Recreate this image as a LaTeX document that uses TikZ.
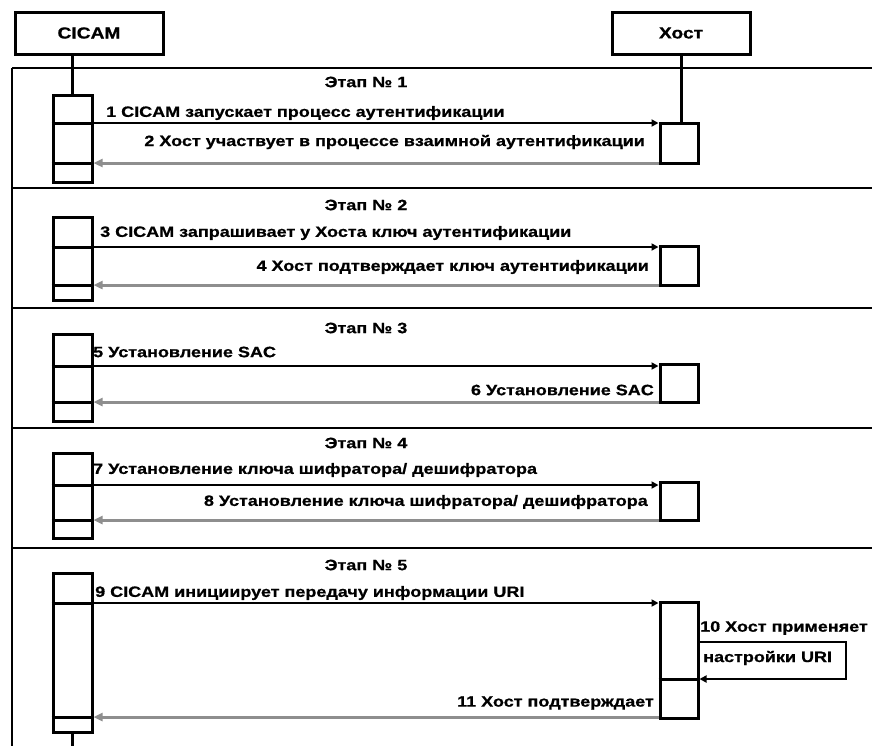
\documentclass[tikz,border=0pt]{standalone}
\usepackage{fontspec}
\setmainfont{Liberation Sans}[FakeStretch=1.2, BoldFeatures={FakeBold=0.8}]
\usetikzlibrary{arrows.meta}
\definecolor{respgray}{HTML}{8E8E8E}
\tikzset{
  objbox/.style={draw, line width=3pt, fill=white, inner sep=0pt, minimum height=42pt,
    font=\bfseries\fontsize{16}{18}\selectfont},
  actbox/.style={draw, line width=3pt, fill=white, inner sep=0pt},
  frameline/.style={line width=2.6pt},
  divline/.style={line width=3pt},
  lifeline/.style={line width=3pt},
  req/.style={line width=2.6pt, -{Triangle[length=7pt,width=7pt]}},
  rsp/.style={line width=3pt, draw=respgray, -{Triangle[length=9pt,width=8pt,fill=respgray]}},
  lbl/.style={font=\bfseries\fontsize{15}{17}\selectfont, inner sep=0pt},
  stagetitle/.style={font=\bfseries\fontsize{15}{17}\selectfont, inner sep=0pt},
}
\begin{document}
\begin{tikzpicture}[x=1pt,y=-1pt]
\useasboundingbox (0,0) rectangle (872,745);
% stage frames
\coordinate (fl) at (12,746);
\foreach \yy in {68,188,308,428,548}{\draw[frameline] (12,\yy) -- (873,\yy);}
\draw[frameline] (12,68) -- (fl);
% stage titles
\node[stagetitle] (s1) at (366,82) {Этап № 1};
\node[stagetitle] (s2) at (366,205) {Этап № 2};
\node[stagetitle] (s3) at (366,328) {Этап № 3};
\node[stagetitle] (s4) at (366,443) {Этап № 4};
\node[stagetitle] (s5) at (366,565) {Этап № 5};
% objects
\node[objbox, minimum width=148pt] (cicam) at (89,33) {CICAM};
\node[objbox, minimum width=138pt] (host) at (681,33) {Хост};
% activation boxes CICAM
\node[actbox, minimum width=39pt, minimum height=87pt] (c1) at (72.5,138.5) {};
\node[actbox, minimum width=39pt, minimum height=83pt] (c2) at (72.5,258.5) {};
\node[actbox, minimum width=39pt, minimum height=87pt] (c3) at (72.5,377.5) {};
\node[actbox, minimum width=39pt, minimum height=85pt] (c4) at (72.5,495.5) {};
\node[actbox, minimum width=39pt, minimum height=159pt] (c5) at (72.5,652.5) {};
% activation boxes Host
\node[actbox, minimum width=38pt, minimum height=40pt] (h1) at (679,143) {};
\node[actbox, minimum width=38pt, minimum height=39pt] (h2) at (679,265.5) {};
\node[actbox, minimum width=38pt, minimum height=38pt] (h3) at (679,383) {};
\node[actbox, minimum width=38pt, minimum height=38pt] (h4) at (679,501) {};
\node[actbox, minimum width=38pt, minimum height=116pt] (h5) at (679,660) {};
% lifelines
\coordinate (cend) at (72.5,746);
\draw[lifeline] (c1.north |- cicam.south) -- (c1.north);
\draw[lifeline] (host.south) -- (host.south |- h1.north);
\draw[lifeline] (c5.south) -- (cend);
% level coordinates
\foreach \n/\yy in {a1/123,a2/163,a3/247,a4/285,a5/366,a6/402,a7/485,a8/520,a9/603,a10/679,a11/717}{\coordinate (\n) at (0,\yy);}
% dividers in CICAM boxes
\foreach \b/\la/\lb in {c1/a1/a2,c2/a3/a4,c3/a5/a6,c4/a7/a8,c5/a9/a11}{
  \draw[divline] (\b.west |- \la) -- (\b.east |- \la);
  \draw[divline] (\b.west |- \lb) -- (\b.east |- \lb);
}
\draw[divline] (h5.west |- a10) -- (h5.east |- a10);
% messages
\draw[req] (c1.east |- a1) -- (h1.west |- a1);
\draw[rsp] (h1.west |- a2) -- (c1.east |- a2);
\draw[req] (c2.east |- a3) -- (h2.west |- a3);
\draw[rsp] (h2.west |- a4) -- (c2.east |- a4);
\draw[req] (c3.east |- a5) -- (h3.west |- a5);
\draw[rsp] (h3.west |- a6) -- (c3.east |- a6);
\draw[req] (c4.east |- a7) -- (h4.west |- a7);
\draw[rsp] (h4.west |- a8) -- (c4.east |- a8);
\draw[req] (c5.east |- a9) -- (h5.west |- a9);
\coordinate (lp1) at (846,642);
\coordinate (lp2) at (846,679);
\draw[req] (h5.east |- lp1) -- (lp1) -- (lp2) -- (h5.east |- lp2);
\draw[rsp] (h5.west |- a11) -- (c5.east |- a11);
% labels
\node[lbl, anchor=west] (l1) at (106,113) {1 CICAM запускает процесс аутентификации};
\node[lbl, anchor=east] (l2) at (645,142) {2 Хост участвует в процессе взаимной аутентификации};
\node[lbl, anchor=west] (l3) at (100,233) {3 CICAM запрашивает у Хоста ключ аутентификации};
\node[lbl, anchor=east] (l4) at (649,267) {4 Хост подтверждает ключ аутентификации};
\node[lbl, anchor=west] (l5) at (93,352) {5 Установление SAC};
\node[lbl, anchor=east] (l6) at (654,390) {6 Установление SAC};
\node[lbl, anchor=west] (l7) at (93,470) {7 Установление ключа шифратора/ дешифратора};
\node[lbl, anchor=east] (l8) at (648,502) {8 Установление ключа шифратора/ дешифратора};
\node[lbl, anchor=west] (l9) at (95,593) {9 CICAM инициирует передачу информации URI};
\node[lbl, anchor=west] (l10) at (700,628) {10 Хост применяет};
\node[lbl, anchor=west] (l10b) at (703,658) {настройки URI};
\node[lbl, anchor=east] (l11) at (654,703) {11 Хост подтверждает};
\end{tikzpicture}
\end{document}
